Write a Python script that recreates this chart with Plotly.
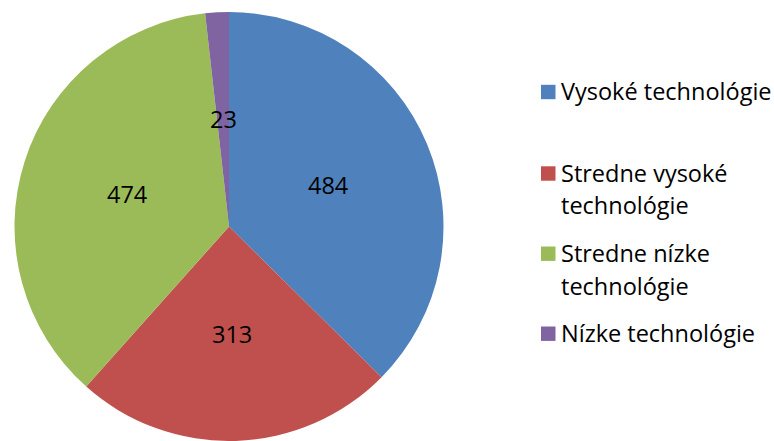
import math
import plotly.graph_objects as go

# ---- data ----
labels = ["Vysoké technológie", "Stredne vysoké technológie",
          "Stredne nízke technológie", "Nízke technológie"]
values = [484, 313, 474, 23]
colors = ["#4F81BD", "#C0504D", "#9BBB59", "#8064A2"]

# ---- layout helpers (pixels) ----
W, H = 774, 441
CX, CY, R = 229.0, 226.5, 214.5
FONT = "Open Sans"
FS = 23.5

def px(x):
    return x / W

def py(y):
    return 1 - y / H

fig = go.Figure()
fig.add_trace(go.Pie(
    labels=labels, values=values, sort=False, direction="clockwise",
    rotation=0, marker=dict(colors=colors, line=dict(width=0)),
    textinfo="none", hoverinfo="label+value", showlegend=False,
    domain=dict(x=[px(CX - R), px(CX + R)], y=[py(CY + R), py(CY - R)]),
))

annotations = []
shapes = []
# data labels at half radius on slice mid-angle
total = sum(values)
cum = 0
for v in values:
    mid = (cum + v / 2) / total * 2 * math.pi
    cum += v
    x = CX + 0.5 * R * math.sin(mid)
    y = CY - 0.5 * R * math.cos(mid)
    annotations.append(dict(x=px(x), y=py(y), xref="paper", yref="paper",
                            text=str(v), showarrow=False, xanchor="center",
                            yanchor="middle",
                            font=dict(family=FONT, size=FS, color="#000")))

# manual legend
legend_lines = [["Vysoké technológie"], ["Stredne vysoké", "technológie"],
                ["Stredne nízke", "technológie"], ["Nízke technológie"]]
square_cy = [92, 173.5, 253.7, 333.7]
line_gap = 33
for lines, c, sy in zip(legend_lines, colors, square_cy):
    shapes.append(dict(type="rect", xref="paper", yref="paper",
                       x0=px(541), x1=px(555.5), y0=py(sy + 7.2), y1=py(sy - 7.2),
                       fillcolor=c, line=dict(width=0)))
    for i, t in enumerate(lines):
        annotations.append(dict(x=px(559), y=py(sy - 1 + i * line_gap), xref="paper",
                                yref="paper", text=t, showarrow=False,
                                xanchor="left", yanchor="middle",
                                font=dict(family=FONT, size=FS, color="#000")))

fig.update_layout(width=W, height=H, margin=dict(l=0, r=0, t=0, b=0),
                  paper_bgcolor="white", plot_bgcolor="white",
                  annotations=annotations, shapes=shapes)
fig.write_html("out.html", config={"displayModeBar": False},
               post_script="document.body.style.margin='0';document.body.style.overflow='hidden';")
